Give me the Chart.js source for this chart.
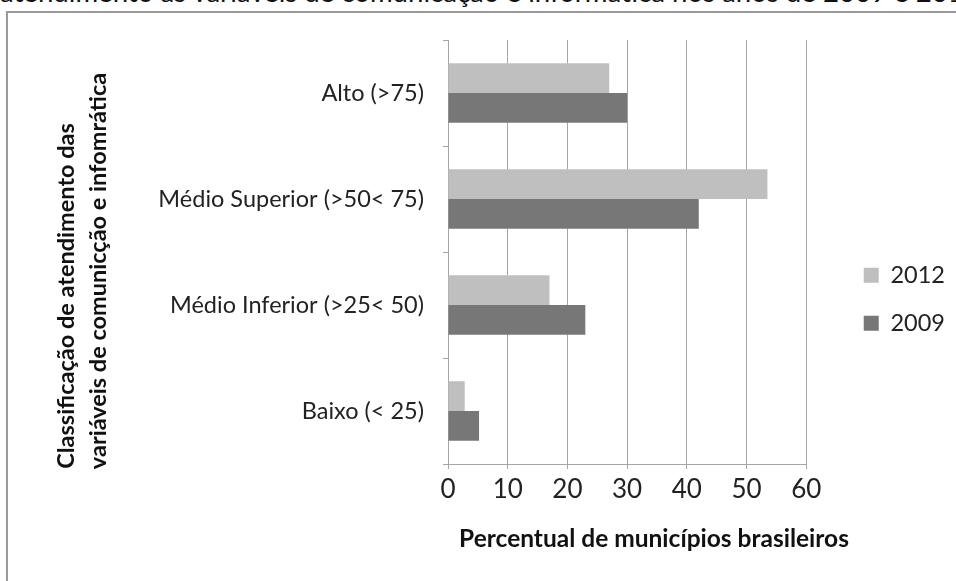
<!DOCTYPE html>
<html><head><meta charset="utf-8">
<script src="https://cdn.jsdelivr.net/npm/chart.js@4"></script>
<style>
html,body{margin:0;padding:0;width:956px;height:581px;overflow:hidden;background:#fff;}
#frame{position:absolute;left:6px;top:11px;width:1000px;height:700px;border:2px solid #9a9a9a;box-sizing:border-box;}
#top{position:absolute;left:0;top:-22px;font:27.6px Lato;white-space:nowrap;color:#111;line-height:1;}
#wrap{position:absolute;left:0;top:0;width:956px;height:581px;}
</style></head><body>
<div id="top">atendimento as variáveis de comunicação e informática nos anos de 2009 e 2012</div>
<div id="frame"></div>
<div id="wrap"><canvas id="c" width="956" height="581"></canvas></div>
<script>
const categories = ['Alto (>75)', 'Médio Superior (>50< 75)', 'Médio Inferior (>25< 50)', 'Baixo (< 25)'];
const seriesNames = ['2012', '2009'];
const values2012 = [27, 53.5, 17, 2.8];
const values2009 = [30, 42, 23, 5.2];
const xMin = 0, xMax = 60, xStep = 10;
const yTitleLines = ['Classificação de atendimento das', 'variáveis de comunicção e infomrática'];
const xTitle = 'Percentual de municípios brasileiros';

const gridColor = '#a6a6a6';
const textColor = '#222222';

const titlesPlugin = {
  id: 'titles',
  afterDraw(chart) {
    const ctx = chart.ctx;
    ctx.save();
    ctx.font = 'bold 24.5px Lato';
    ctx.fillStyle = '#111';
    ctx.textAlign = 'center';
    ctx.textBaseline = 'middle';
    ctx.fillText(xTitle, 654, 539);
    ctx.restore();
    const centers = [[66, 296], [98, 271]];
    yTitleLines.forEach((t, i) => {
      ctx.save();
      ctx.font = 'bold 23.5px Lato';
      ctx.fillStyle = '#111';
      ctx.textAlign = 'center';
      ctx.textBaseline = 'middle';
      ctx.translate(centers[i][0], centers[i][1]);
      ctx.rotate(-Math.PI / 2);
      ctx.fillText(t, 0, 0);
      ctx.restore();
    });
  }
};

new Chart(document.getElementById('c'), {
  type: 'bar',
  data: {
    labels: categories,
    datasets: [
      { label: seriesNames[0], data: values2012, backgroundColor: '#bfbfbf', borderWidth: 0, categoryPercentage: 0.56, barPercentage: 1 },
      { label: seriesNames[1], data: values2009, backgroundColor: '#777777', borderWidth: 0, categoryPercentage: 0.56, barPercentage: 1 }
    ]
  },
  options: {
    indexAxis: 'y',
    responsive: false,
    animation: false,
    devicePixelRatio: 1,
    layout: { padding: { top: 40, left: 0, right: 1, bottom: 22.5 } },
    plugins: {
      legend: {
        position: 'right',
        labels: { boxWidth: 15, boxHeight: 15, padding: 24.5, color: textColor, font: { family: 'Lato', size: 23.5 } }
      },
      tooltip: { enabled: false }
    },
    scales: {
      x: {
        type: 'linear', position: 'bottom', min: xMin, max: xMax,
        ticks: { stepSize: xStep, color: textColor, font: { family: 'Lato', size: 26 }, padding: 5 },
        grid: { color: gridColor, lineWidth: 1, tickLength: 5 },
        border: { color: gridColor },
        afterFit(s) { s.height = 94.5; }
      },
      y: {
        type: 'category', position: 'left',
        ticks: { color: textColor, font: { family: 'Lato', size: 23.5 }, padding: 19 },
        grid: { drawOnChartArea: false, offset: true, color: gridColor, tickLength: 5 },
        border: { color: gridColor },
        afterFit(s) { s.width = 448; }
      },
      gap: {
        type: 'linear', position: 'right', display: true,
        ticks: { display: false }, grid: { display: false }, border: { display: false },
        afterFit(s) { s.width = 33; }
      }
    }
  },
  plugins: [titlesPlugin]
});
</script>
</body></html>
